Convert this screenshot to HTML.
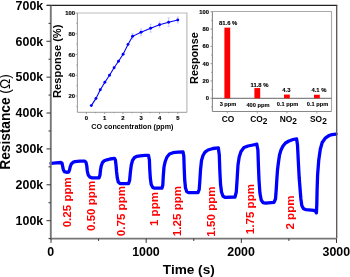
<!DOCTYPE html>
<html><head><meta charset="utf-8"><style>
html,body{margin:0;padding:0;background:#fff;width:350px;height:277px;overflow:hidden;}
svg{display:block;will-change:transform;}
</style></head><body>
<svg width="350" height="277" viewBox="0 0 350 277">
<rect width="350" height="277" fill="#fff"/>
<path d="M51.0,163.3 L56.0,162.9 L61.0,162.5 L62.0,163.2 L62.6,166.0 L63.3,169.5 L64.3,171.6 L66.5,172.3 L68.7,172.0 L69.5,170.0 L70.3,166.5 L71.3,164.0 L73.0,162.3 L75.0,161.6 L80.0,161.2 L84.8,161.1 L86.0,162.3 L86.8,166.0 L87.3,171.0 L88.2,175.0 L90.0,177.2 L92.0,177.8 L99.0,177.9 L100.0,175.0 L100.5,170.0 L101.2,166.0 L102.5,162.5 L104.3,160.8 L107.0,159.8 L110.0,159.0 L114.5,158.4 L115.4,160.0 L116.0,165.0 L116.6,172.0 L117.3,178.0 L118.3,182.0 L120.0,183.6 L128.5,183.6 L129.6,180.5 L130.4,172.0 L131.3,165.0 L132.5,160.5 L134.2,157.8 L137.0,156.3 L140.0,155.8 L145.0,155.4 L148.5,155.3 L149.4,160.0 L149.8,170.0 L150.3,178.0 L151.2,184.5 L152.8,187.5 L154.5,188.2 L162.0,188.2 L162.8,185.0 L163.3,176.0 L164.0,167.0 L165.2,161.5 L167.0,157.0 L169.5,154.0 L173.0,152.7 L178.0,152.1 L183.0,151.9 L183.8,156.0 L184.2,168.0 L184.7,180.0 L185.5,188.0 L186.8,191.7 L188.5,192.7 L198.0,192.6 L199.2,189.5 L199.9,180.0 L200.5,170.0 L201.5,160.5 L203.0,155.5 L205.0,152.2 L208.0,150.0 L213.0,148.5 L218.3,147.8 L219.3,155.0 L219.8,170.0 L220.5,184.0 L221.5,192.0 L223.0,196.2 L225.0,197.3 L235.0,197.0 L236.3,192.0 L237.2,178.0 L238.0,165.0 L239.2,157.0 L241.0,151.5 L244.0,147.5 L248.0,146.0 L253.0,145.0 L256.8,144.2 L257.9,150.0 L258.4,165.0 L259.0,180.0 L259.9,193.0 L261.2,200.0 L263.0,202.7 L265.5,203.2 L274.0,202.3 L275.5,199.0 L276.2,190.0 L276.8,180.0 L277.5,170.0 L278.5,162.0 L279.5,155.0 L281.0,150.0 L283.0,146.0 L285.5,143.0 L289.0,141.0 L293.0,139.5 L296.6,138.8 L297.5,145.0 L298.0,155.0 L298.5,165.0 L299.2,178.0 L300.0,188.0 L300.9,199.0 L301.8,205.5 L303.5,208.8 L306.0,209.6 L314.0,210.3 L315.6,211.5 L316.4,212.8 L316.8,205.0 L317.1,190.0 L317.6,175.0 L318.7,160.6 L320.3,149.3 L322.2,142.5 L325.6,137.8 L329.1,135.5 L332.0,134.6 L336.0,134.2" fill="none" stroke="#0000ff" stroke-width="3.3" stroke-linejoin="round" stroke-linecap="round"/>
<line x1="46.7" y1="5.4" x2="337.35" y2="5.4" stroke="#222" stroke-width="1.1"/>
<line x1="336.7" y1="5.4" x2="336.7" y2="238.6" stroke="#555" stroke-width="1.3"/>
<line x1="50.8" y1="5.4" x2="50.8" y2="239.4" stroke="#777" stroke-width="1.9"/>
<line x1="50.8" y1="238.6" x2="336.3" y2="238.6" stroke="#777" stroke-width="1.6"/>
<line x1="46.5" y1="220.66" x2="50.8" y2="220.66" stroke="#333" stroke-width="1"/>
<text x="43.2" y="224.96" font-size="12.4" text-anchor="end" font-family="Liberation Sans, sans-serif" font-weight="bold" fill="#000">100k</text>
<line x1="46.5" y1="184.78" x2="50.8" y2="184.78" stroke="#333" stroke-width="1"/>
<text x="43.2" y="189.08" font-size="12.4" text-anchor="end" font-family="Liberation Sans, sans-serif" font-weight="bold" fill="#000">200k</text>
<line x1="46.5" y1="148.91" x2="50.8" y2="148.91" stroke="#333" stroke-width="1"/>
<text x="43.2" y="153.21" font-size="12.4" text-anchor="end" font-family="Liberation Sans, sans-serif" font-weight="bold" fill="#000">300k</text>
<line x1="46.5" y1="113.03" x2="50.8" y2="113.03" stroke="#333" stroke-width="1"/>
<text x="43.2" y="117.33" font-size="12.4" text-anchor="end" font-family="Liberation Sans, sans-serif" font-weight="bold" fill="#000">400k</text>
<line x1="46.5" y1="77.15" x2="50.8" y2="77.15" stroke="#333" stroke-width="1"/>
<text x="43.2" y="81.45" font-size="12.4" text-anchor="end" font-family="Liberation Sans, sans-serif" font-weight="bold" fill="#000">500k</text>
<line x1="46.5" y1="41.28" x2="50.8" y2="41.28" stroke="#333" stroke-width="1"/>
<text x="43.2" y="45.58" font-size="12.4" text-anchor="end" font-family="Liberation Sans, sans-serif" font-weight="bold" fill="#000">600k</text>
<line x1="46.5" y1="5.40" x2="50.8" y2="5.40" stroke="#333" stroke-width="1"/>
<text x="43.2" y="9.70" font-size="12.4" text-anchor="end" font-family="Liberation Sans, sans-serif" font-weight="bold" fill="#000">700k</text>
<line x1="48.5" y1="238.60" x2="50.8" y2="238.60" stroke="#333" stroke-width="1"/>
<line x1="48.5" y1="202.72" x2="50.8" y2="202.72" stroke="#333" stroke-width="1"/>
<line x1="48.5" y1="166.85" x2="50.8" y2="166.85" stroke="#333" stroke-width="1"/>
<line x1="48.5" y1="130.97" x2="50.8" y2="130.97" stroke="#333" stroke-width="1"/>
<line x1="48.5" y1="95.09" x2="50.8" y2="95.09" stroke="#333" stroke-width="1"/>
<line x1="48.5" y1="59.22" x2="50.8" y2="59.22" stroke="#333" stroke-width="1"/>
<line x1="48.5" y1="23.34" x2="50.8" y2="23.34" stroke="#333" stroke-width="1"/>
<line x1="51.00" y1="238.6" x2="51.00" y2="242.9" stroke="#333" stroke-width="1"/>
<text x="50.80" y="256.4" font-size="12.4" text-anchor="middle" font-family="Liberation Sans, sans-serif" font-weight="bold" fill="#000">0</text>
<line x1="146.17" y1="238.6" x2="146.17" y2="242.9" stroke="#333" stroke-width="1"/>
<text x="145.97" y="256.4" font-size="12.4" text-anchor="middle" font-family="Liberation Sans, sans-serif" font-weight="bold" fill="#000">1000</text>
<line x1="241.33" y1="238.6" x2="241.33" y2="242.9" stroke="#333" stroke-width="1"/>
<text x="241.13" y="256.4" font-size="12.4" text-anchor="middle" font-family="Liberation Sans, sans-serif" font-weight="bold" fill="#000">2000</text>
<line x1="336.50" y1="238.6" x2="336.50" y2="242.9" stroke="#333" stroke-width="1"/>
<text x="336.30" y="256.4" font-size="12.4" text-anchor="middle" font-family="Liberation Sans, sans-serif" font-weight="bold" fill="#000">3000</text>
<line x1="98.58" y1="238.6" x2="98.58" y2="240.9" stroke="#333" stroke-width="1"/>
<line x1="193.75" y1="238.6" x2="193.75" y2="240.9" stroke="#333" stroke-width="1"/>
<line x1="288.92" y1="238.6" x2="288.92" y2="240.9" stroke="#333" stroke-width="1"/>
<text x="188.8" y="273.6" font-size="13.6" text-anchor="middle" font-family="Liberation Sans, sans-serif" font-weight="bold" fill="#000">Time (s)</text>
<text transform="translate(10.2,122) rotate(-90) scale(1,1.06)" font-size="13.7" text-anchor="middle" font-family="Liberation Sans, sans-serif" font-weight="bold" fill="#000">Resistance <tspan font-weight="normal">(&#937;)</tspan></text>
<text transform="translate(71.0,202.2) rotate(-90)" font-size="11.6" text-anchor="middle" font-family="Liberation Sans, sans-serif" font-weight="bold" fill="#ff0000">0.25 ppm</text>
<text transform="translate(95.1,205.9) rotate(-90)" font-size="11.6" text-anchor="middle" font-family="Liberation Sans, sans-serif" font-weight="bold" fill="#ff0000">0.50 ppm</text>
<text transform="translate(124.7,211.1) rotate(-90)" font-size="11.6" text-anchor="middle" font-family="Liberation Sans, sans-serif" font-weight="bold" fill="#ff0000">0.75 ppm</text>
<text transform="translate(157.8,209.0) rotate(-90)" font-size="11.6" text-anchor="middle" font-family="Liberation Sans, sans-serif" font-weight="bold" fill="#ff0000">1 ppm</text>
<text transform="translate(180.7,211.0) rotate(-90)" font-size="11.6" text-anchor="middle" font-family="Liberation Sans, sans-serif" font-weight="bold" fill="#ff0000">1.25 ppm</text>
<text transform="translate(214.9,211.5) rotate(-90)" font-size="11.6" text-anchor="middle" font-family="Liberation Sans, sans-serif" font-weight="bold" fill="#ff0000">1.50 ppm</text>
<text transform="translate(253.7,209.1) rotate(-90)" font-size="11.6" text-anchor="middle" font-family="Liberation Sans, sans-serif" font-weight="bold" fill="#ff0000">1.75 ppm</text>
<text transform="translate(293.9,212.5) rotate(-90)" font-size="11.6" text-anchor="middle" font-family="Liberation Sans, sans-serif" font-weight="bold" fill="#ff0000">2 ppm</text>
<rect x="77.4" y="13.0" width="109.5" height="99.3" fill="#fff" stroke="none"/>
<polyline points="77.4,13.0 186.9,13.0 186.9,112.3" fill="none" stroke="#bbb" stroke-width="1.2"/>
<line x1="77.4" y1="13.0" x2="77.4" y2="112.3" stroke="#999" stroke-width="1"/>
<line x1="77.4" y1="112.3" x2="186.9" y2="112.3" stroke="#999" stroke-width="1"/>
<line x1="75.60000000000001" y1="96.00" x2="77.4" y2="96.00" stroke="#888" stroke-width="0.8"/>
<text x="75.1" y="98.20" font-size="5.9" text-anchor="end" font-family="Liberation Sans, sans-serif" font-weight="bold" fill="#000" stroke="#000" stroke-width="0.15">20</text>
<line x1="75.60000000000001" y1="75.25" x2="77.4" y2="75.25" stroke="#888" stroke-width="0.8"/>
<text x="75.1" y="77.45" font-size="5.9" text-anchor="end" font-family="Liberation Sans, sans-serif" font-weight="bold" fill="#000" stroke="#000" stroke-width="0.15">40</text>
<line x1="75.60000000000001" y1="54.50" x2="77.4" y2="54.50" stroke="#888" stroke-width="0.8"/>
<text x="75.1" y="56.70" font-size="5.9" text-anchor="end" font-family="Liberation Sans, sans-serif" font-weight="bold" fill="#000" stroke="#000" stroke-width="0.15">60</text>
<line x1="75.60000000000001" y1="33.75" x2="77.4" y2="33.75" stroke="#888" stroke-width="0.8"/>
<text x="75.1" y="35.95" font-size="5.9" text-anchor="end" font-family="Liberation Sans, sans-serif" font-weight="bold" fill="#000" stroke="#000" stroke-width="0.15">80</text>
<line x1="75.60000000000001" y1="13.00" x2="77.4" y2="13.00" stroke="#888" stroke-width="0.8"/>
<text x="75.1" y="15.20" font-size="5.9" text-anchor="end" font-family="Liberation Sans, sans-serif" font-weight="bold" fill="#000" stroke="#000" stroke-width="0.15">100</text>
<line x1="76.4" y1="106.38" x2="77.4" y2="106.38" stroke="#888" stroke-width="0.8"/>
<line x1="76.4" y1="85.62" x2="77.4" y2="85.62" stroke="#888" stroke-width="0.8"/>
<line x1="76.4" y1="64.88" x2="77.4" y2="64.88" stroke="#888" stroke-width="0.8"/>
<line x1="76.4" y1="44.12" x2="77.4" y2="44.12" stroke="#888" stroke-width="0.8"/>
<line x1="76.4" y1="23.38" x2="77.4" y2="23.38" stroke="#888" stroke-width="0.8"/>
<line x1="86.40" y1="112.3" x2="86.40" y2="114.1" stroke="#888" stroke-width="0.8"/>
<text x="86.40" y="120.1" font-size="5.9" text-anchor="middle" font-family="Liberation Sans, sans-serif" font-weight="bold" fill="#000" stroke="#000" stroke-width="0.15">0</text>
<line x1="104.68" y1="112.3" x2="104.68" y2="114.1" stroke="#888" stroke-width="0.8"/>
<text x="104.68" y="120.1" font-size="5.9" text-anchor="middle" font-family="Liberation Sans, sans-serif" font-weight="bold" fill="#000" stroke="#000" stroke-width="0.15">1</text>
<line x1="122.96" y1="112.3" x2="122.96" y2="114.1" stroke="#888" stroke-width="0.8"/>
<text x="122.96" y="120.1" font-size="5.9" text-anchor="middle" font-family="Liberation Sans, sans-serif" font-weight="bold" fill="#000" stroke="#000" stroke-width="0.15">2</text>
<line x1="141.24" y1="112.3" x2="141.24" y2="114.1" stroke="#888" stroke-width="0.8"/>
<text x="141.24" y="120.1" font-size="5.9" text-anchor="middle" font-family="Liberation Sans, sans-serif" font-weight="bold" fill="#000" stroke="#000" stroke-width="0.15">3</text>
<line x1="159.52" y1="112.3" x2="159.52" y2="114.1" stroke="#888" stroke-width="0.8"/>
<text x="159.52" y="120.1" font-size="5.9" text-anchor="middle" font-family="Liberation Sans, sans-serif" font-weight="bold" fill="#000" stroke="#000" stroke-width="0.15">4</text>
<line x1="177.80" y1="112.3" x2="177.80" y2="114.1" stroke="#888" stroke-width="0.8"/>
<text x="177.80" y="120.1" font-size="5.9" text-anchor="middle" font-family="Liberation Sans, sans-serif" font-weight="bold" fill="#000" stroke="#000" stroke-width="0.15">5</text>
<line x1="95.54" y1="112.3" x2="95.54" y2="113.3" stroke="#888" stroke-width="0.8"/>
<line x1="113.82" y1="112.3" x2="113.82" y2="113.3" stroke="#888" stroke-width="0.8"/>
<line x1="132.10" y1="112.3" x2="132.10" y2="113.3" stroke="#888" stroke-width="0.8"/>
<line x1="150.38" y1="112.3" x2="150.38" y2="113.3" stroke="#888" stroke-width="0.8"/>
<line x1="168.66" y1="112.3" x2="168.66" y2="113.3" stroke="#888" stroke-width="0.8"/>
<text transform="translate(132.4,129.1) scale(1,1.1)" font-size="7.2" text-anchor="middle" font-family="Liberation Sans, sans-serif" font-weight="bold" fill="#000">CO concentration (ppm)</text>
<text transform="translate(61.4,61.3) rotate(-90)" font-size="11.1" text-anchor="middle" font-family="Liberation Sans, sans-serif" font-weight="bold" fill="#000">Response (%)</text>
<line x1="132.6" y1="33.5" x2="132.6" y2="39.099999999999994" stroke="#a0a0ff" stroke-width="0.5"/>
<line x1="131.6" y1="33.5" x2="133.6" y2="33.5" stroke="#a0a0ff" stroke-width="0.5"/>
<line x1="131.6" y1="39.099999999999994" x2="133.6" y2="39.099999999999994" stroke="#a0a0ff" stroke-width="0.5"/>
<line x1="141" y1="28.999999999999996" x2="141" y2="35.599999999999994" stroke="#a0a0ff" stroke-width="0.5"/>
<line x1="140" y1="28.999999999999996" x2="142" y2="28.999999999999996" stroke="#a0a0ff" stroke-width="0.5"/>
<line x1="140" y1="35.599999999999994" x2="142" y2="35.599999999999994" stroke="#a0a0ff" stroke-width="0.5"/>
<line x1="150.6" y1="24.2" x2="150.6" y2="32.2" stroke="#a0a0ff" stroke-width="0.5"/>
<line x1="149.6" y1="24.2" x2="151.6" y2="24.2" stroke="#a0a0ff" stroke-width="0.5"/>
<line x1="149.6" y1="32.2" x2="151.6" y2="32.2" stroke="#a0a0ff" stroke-width="0.5"/>
<line x1="159.6" y1="21.8" x2="159.6" y2="27.8" stroke="#a0a0ff" stroke-width="0.5"/>
<line x1="158.6" y1="21.8" x2="160.6" y2="21.8" stroke="#a0a0ff" stroke-width="0.5"/>
<line x1="158.6" y1="27.8" x2="160.6" y2="27.8" stroke="#a0a0ff" stroke-width="0.5"/>
<line x1="168.6" y1="17.9" x2="168.6" y2="26.5" stroke="#a0a0ff" stroke-width="0.5"/>
<line x1="167.6" y1="17.9" x2="169.6" y2="17.9" stroke="#a0a0ff" stroke-width="0.5"/>
<line x1="167.6" y1="26.5" x2="169.6" y2="26.5" stroke="#a0a0ff" stroke-width="0.5"/>
<line x1="177.8" y1="17.0" x2="177.8" y2="23.0" stroke="#a0a0ff" stroke-width="0.5"/>
<line x1="176.8" y1="17.0" x2="178.8" y2="17.0" stroke="#a0a0ff" stroke-width="0.5"/>
<line x1="176.8" y1="23.0" x2="178.8" y2="23.0" stroke="#a0a0ff" stroke-width="0.5"/>
<polyline points="91.3,105.6 96,98.4 100.3,89.7 104.9,82.2 109.5,75.3 114.1,67.8 118.5,61.2 123.1,54.2 128,44.4 132.6,36.3 141,32.3 150.6,28.2 159.6,24.8 168.6,22.2 177.8,20" fill="none" stroke="#0000ff" stroke-width="1.1"/>
<circle cx="91.3" cy="105.6" r="1.45" fill="#0000ff"/>
<circle cx="96" cy="98.4" r="1.45" fill="#0000ff"/>
<circle cx="100.3" cy="89.7" r="1.45" fill="#0000ff"/>
<circle cx="104.9" cy="82.2" r="1.45" fill="#0000ff"/>
<circle cx="109.5" cy="75.3" r="1.45" fill="#0000ff"/>
<circle cx="114.1" cy="67.8" r="1.45" fill="#0000ff"/>
<circle cx="118.5" cy="61.2" r="1.45" fill="#0000ff"/>
<circle cx="123.1" cy="54.2" r="1.45" fill="#0000ff"/>
<circle cx="128" cy="44.4" r="1.45" fill="#0000ff"/>
<circle cx="132.6" cy="36.3" r="1.45" fill="#0000ff"/>
<circle cx="141" cy="32.3" r="1.45" fill="#0000ff"/>
<circle cx="150.6" cy="28.2" r="1.45" fill="#0000ff"/>
<circle cx="159.6" cy="24.8" r="1.45" fill="#0000ff"/>
<circle cx="168.6" cy="22.2" r="1.45" fill="#0000ff"/>
<circle cx="177.8" cy="20" r="1.45" fill="#0000ff"/>
<rect x="212.4" y="11.5" width="119.1" height="100.0" fill="#fff" stroke="none"/>
<polyline points="212.4,11.5 331.5,11.5 331.5,111.5" fill="none" stroke="#aaa" stroke-width="1.1"/>
<line x1="212.4" y1="111.5" x2="331.5" y2="111.5" stroke="#888" stroke-width="1"/>
<line x1="212.4" y1="11.5" x2="212.4" y2="111.5" stroke="#888" stroke-width="1.1"/>
<line x1="212.4" y1="98.3" x2="331.5" y2="98.3" stroke="#555" stroke-width="0.9"/>
<line x1="210.4" y1="98.30" x2="212.4" y2="98.30" stroke="#888" stroke-width="0.8"/>
<text x="209" y="100.40" font-size="5.8" text-anchor="end" font-family="Liberation Sans, sans-serif" font-weight="bold" fill="#000" stroke="#000" stroke-width="0.15">0</text>
<line x1="210.4" y1="80.98" x2="212.4" y2="80.98" stroke="#888" stroke-width="0.8"/>
<text x="209" y="83.08" font-size="5.8" text-anchor="end" font-family="Liberation Sans, sans-serif" font-weight="bold" fill="#000" stroke="#000" stroke-width="0.15">20</text>
<line x1="210.4" y1="63.66" x2="212.4" y2="63.66" stroke="#888" stroke-width="0.8"/>
<text x="209" y="65.76" font-size="5.8" text-anchor="end" font-family="Liberation Sans, sans-serif" font-weight="bold" fill="#000" stroke="#000" stroke-width="0.15">40</text>
<line x1="210.4" y1="46.34" x2="212.4" y2="46.34" stroke="#888" stroke-width="0.8"/>
<text x="209" y="48.44" font-size="5.8" text-anchor="end" font-family="Liberation Sans, sans-serif" font-weight="bold" fill="#000" stroke="#000" stroke-width="0.15">60</text>
<line x1="210.4" y1="29.02" x2="212.4" y2="29.02" stroke="#888" stroke-width="0.8"/>
<text x="209" y="31.12" font-size="5.8" text-anchor="end" font-family="Liberation Sans, sans-serif" font-weight="bold" fill="#000" stroke="#000" stroke-width="0.15">80</text>
<line x1="210.4" y1="11.70" x2="212.4" y2="11.70" stroke="#888" stroke-width="0.8"/>
<text x="209" y="13.80" font-size="5.8" text-anchor="end" font-family="Liberation Sans, sans-serif" font-weight="bold" fill="#000" stroke="#000" stroke-width="0.15">100</text>
<line x1="211.20000000000002" y1="106.96" x2="212.4" y2="106.96" stroke="#888" stroke-width="0.8"/>
<line x1="211.20000000000002" y1="89.64" x2="212.4" y2="89.64" stroke="#888" stroke-width="0.8"/>
<line x1="211.20000000000002" y1="72.32" x2="212.4" y2="72.32" stroke="#888" stroke-width="0.8"/>
<line x1="211.20000000000002" y1="55.00" x2="212.4" y2="55.00" stroke="#888" stroke-width="0.8"/>
<line x1="211.20000000000002" y1="37.68" x2="212.4" y2="37.68" stroke="#888" stroke-width="0.8"/>
<line x1="211.20000000000002" y1="20.36" x2="212.4" y2="20.36" stroke="#888" stroke-width="0.8"/>
<rect x="224.40" y="27.63" width="5.8" height="70.67" fill="#ff0000"/>
<text x="228.00" y="106.3" font-size="5.7" text-anchor="middle" font-family="Liberation Sans, sans-serif" font-weight="bold" fill="#000" stroke="#000" stroke-width="0.1">3 ppm</text>
<line x1="227.30" y1="111.5" x2="227.30" y2="113.3" stroke="#888" stroke-width="0.8"/>
<text x="228.10" y="122" font-size="8.4" text-anchor="middle" font-family="Liberation Sans, sans-serif" font-weight="bold" fill="#000">CO</text>
<rect x="254.40" y="88.08" width="5.8" height="10.22" fill="#ff0000"/>
<text x="258.00" y="106.6" font-size="5.7" text-anchor="middle" font-family="Liberation Sans, sans-serif" font-weight="bold" fill="#000" stroke="#000" stroke-width="0.1">400 ppm</text>
<line x1="257.30" y1="111.5" x2="257.30" y2="113.3" stroke="#888" stroke-width="0.8"/>
<text x="258.80" y="122" font-size="8.4" text-anchor="middle" font-family="Liberation Sans, sans-serif" font-weight="bold" fill="#000">CO<tspan font-size="8.3" dy="1.6">2</tspan></text>
<rect x="284.00" y="94.58" width="5.8" height="3.72" fill="#ff0000"/>
<text x="287.60" y="105.5" font-size="5.7" text-anchor="middle" font-family="Liberation Sans, sans-serif" font-weight="bold" fill="#000" stroke="#000" stroke-width="0.1">0.1 ppm</text>
<line x1="286.90" y1="111.5" x2="286.90" y2="113.3" stroke="#888" stroke-width="0.8"/>
<text x="288.40" y="122" font-size="8.4" text-anchor="middle" font-family="Liberation Sans, sans-serif" font-weight="bold" fill="#000">NO<tspan font-size="8.3" dy="1.6">2</tspan></text>
<rect x="314.00" y="94.75" width="5.8" height="3.55" fill="#ff0000"/>
<text x="317.60" y="106.0" font-size="5.7" text-anchor="middle" font-family="Liberation Sans, sans-serif" font-weight="bold" fill="#000" stroke="#000" stroke-width="0.1">0.1 ppm</text>
<line x1="316.90" y1="111.5" x2="316.90" y2="113.3" stroke="#888" stroke-width="0.8"/>
<text x="318.40" y="122" font-size="8.4" text-anchor="middle" font-family="Liberation Sans, sans-serif" font-weight="bold" fill="#000">SO<tspan font-size="8.3" dy="1.6">2</tspan></text>
<text x="228.2" y="25.2" font-size="5.9" text-anchor="middle" font-family="Liberation Sans, sans-serif" font-weight="bold" fill="#000" stroke="#000" stroke-width="0.12">81.6 %</text>
<text x="259.5" y="86.6" font-size="5.9" text-anchor="middle" font-family="Liberation Sans, sans-serif" font-weight="bold" fill="#000" stroke="#000" stroke-width="0.12">11.8 %</text>
<text x="286.4" y="91.7" font-size="5.9" text-anchor="middle" font-family="Liberation Sans, sans-serif" font-weight="bold" fill="#000" stroke="#000" stroke-width="0.12">4.3</text>
<text x="319" y="91.7" font-size="5.9" text-anchor="middle" font-family="Liberation Sans, sans-serif" font-weight="bold" fill="#000" stroke="#000" stroke-width="0.12">4.1 %</text>
<text transform="translate(197.5,58.1) rotate(-90)" font-size="10.8" text-anchor="middle" font-family="Liberation Sans, sans-serif" font-weight="bold" fill="#000">Response</text>
</svg>
</body></html>
